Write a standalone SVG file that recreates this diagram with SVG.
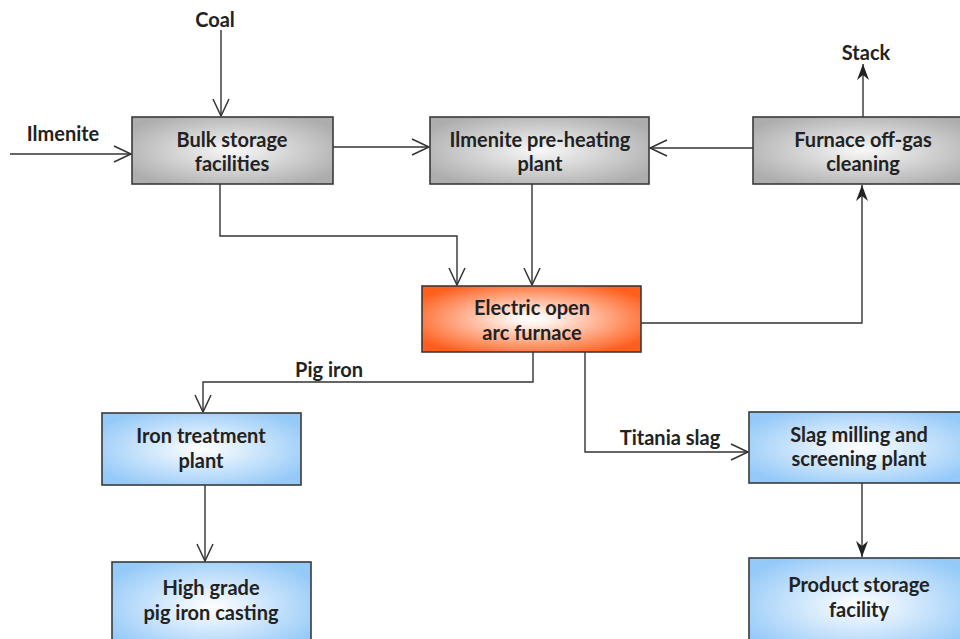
<svg xmlns="http://www.w3.org/2000/svg" width="960" height="639" viewBox="0 0 960 639">
<defs>
<radialGradient id="gGrey" cx="50%" cy="50%" r="60%">
<stop offset="0" stop-color="#f8f8f8"/>
<stop offset="1" stop-color="#adadad"/>
</radialGradient>
<radialGradient id="gOrange" cx="50%" cy="50%" r="60%">
<stop offset="0" stop-color="#ffffff"/>
<stop offset="0.15" stop-color="#fff2ec"/>
<stop offset="1" stop-color="#ff5e1c"/>
</radialGradient>
<radialGradient id="gBlue" cx="50%" cy="50%" r="60%">
<stop offset="0" stop-color="#ffffff"/>
<stop offset="1" stop-color="#94c9f8"/>
</radialGradient>
<marker id="open" viewBox="0 0 18 16" refX="17" refY="8" markerWidth="18" markerHeight="16" orient="auto" markerUnits="userSpaceOnUse" overflow="visible">
<path d="M0,0 L17,8 L0,16" fill="none" stroke="#333" stroke-width="1.5"/>
</marker>
<marker id="fill" viewBox="0 0 16 12" refX="16" refY="6" markerWidth="16" markerHeight="12" orient="auto" markerUnits="userSpaceOnUse" overflow="visible">
<path d="M0,0 L16,6 L0,12 L5,6 z" fill="#222"/>
</marker>
</defs>
<style>
.box{stroke:#3a3a3a;stroke-width:1.6}
.grey{fill:url(#gGrey)}
.orange{fill:url(#gOrange)}
.blue{fill:url(#gBlue)}
text{font-family:Lato,"Open Sans","Liberation Sans",sans-serif;font-weight:bold;font-size:20px;fill:#222;text-anchor:middle}
.c{fill:none;stroke:#333;stroke-width:1.4}
.o{marker-end:url(#open)}
.f{marker-end:url(#fill)}
</style>
<g id="connectors">
<path class="c o" d="M221,30 V116"/>
<path class="c o" d="M10,154 H131"/>
<path class="c o" d="M333,147 H429"/>
<path class="c o" d="M753,148 H650"/>
<path class="c f" d="M863,117 V64"/>
<path class="c o" d="M220,184 V236 H457 V285"/>
<path class="c o" d="M532,184 V285"/>
<path class="c f" d="M641,323 H862 V185"/>
<path class="c o" d="M533,352 V382 H203 V412"/>
<path class="c o" d="M585,352 V452 H748"/>
<path class="c o" d="M205,485 V561"/>
<path class="c f" d="M862,483 V557"/>
<text x="215" y="27">Coal</text>
<text x="63" y="141">Ilmenite</text>
<text x="866" y="60">Stack</text>
<text x="329" y="377">Pig iron</text>
<text x="670" y="445">Titania slag</text>
</g>
<g id="bulk">
<rect class="box grey" x="132" y="117" width="201" height="67"/>
<text x="232" y="147">Bulk storage</text>
<text x="232" y="171">facilities</text>
</g>
<g id="preheat">
<rect class="box grey" x="430" y="117" width="219" height="67"/>
<text x="540" y="147">Ilmenite pre-heating</text>
<text x="540" y="171">plant</text>
</g>
<g id="offgas">
<rect class="box grey" x="753" y="117" width="220" height="67"/>
<text x="863" y="147">Furnace off-gas</text>
<text x="863" y="171">cleaning</text>
</g>
<g id="furnace">
<rect class="box orange" x="422" y="286" width="219" height="66"/>
<text x="532" y="315">Electric open</text>
<text x="532" y="340">arc furnace</text>
</g>
<g id="irontreat">
<rect class="box blue" x="102" y="413" width="199" height="72"/>
<text x="201" y="443">Iron treatment</text>
<text x="201" y="468">plant</text>
</g>
<g id="pigcast">
<rect class="box blue" x="112" y="562" width="199" height="90"/>
<text x="211" y="595">High grade</text>
<text x="211" y="620">pig iron casting</text>
</g>
<g id="slagmill">
<rect class="box blue" x="749" y="412" width="220" height="71"/>
<text x="859" y="442">Slag milling and</text>
<text x="859" y="466">screening plant</text>
</g>
<g id="product">
<rect class="box blue" x="749" y="558" width="220" height="95"/>
<text x="859" y="592">Product storage</text>
<text x="859" y="617">facility</text>
</g>
</svg>
